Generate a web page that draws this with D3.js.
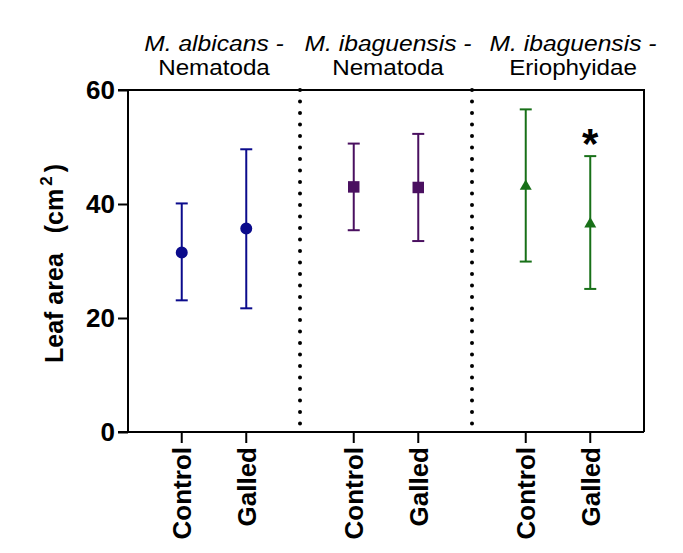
<!DOCTYPE html>
<html>
<head>
<meta charset="utf-8">
<script src="https://cdn.jsdelivr.net/npm/d3@7"></script>
<style>
  html, body { margin: 0; padding: 0; background: #ffffff; }
  svg { display: block; font-family: "Liberation Sans", Arial, sans-serif; }
</style>
</head>
<body>
<svg id="chart" width="683" height="553"></svg>
<script>
// ---- data ----
const titleLine1 = ["M. albicans -", "M. ibaguensis -", "M. ibaguensis -"];
const titleLine2 = ["Nematoda", "Nematoda", "Eriophyidae"];
const treatments = ["Control", "Galled"];
const meanValues  = [31.5, 35.7, 43.0, 42.9, 43.1, 36.5];
const upperValues = [40.1, 49.6, 50.6, 52.3, 56.6, 48.4];
const lowerValues = [23.1, 21.7, 35.4, 33.5, 29.9, 25.1];
const significance = ["", "", "", "", "", "*"];
const yTicks = [0, 20, 40, 60];
const yLabel = "Leaf area";
const yUnit = "(cm";
const yUnitSup = "2";

// ---- styles / layout ----
const groupColors = ["#0b0b8c", "#4a1060", "#187018"];
const groupSymbols = [d3.symbolCircle, d3.symbolSquare, d3.symbolTriangle];
const symbolSizes = [113, 132, 62];
const titleShift = [0, 2, 15];

const svg = d3.select("#chart");
const mLeft = 128, mRight = 644, mTop = 90, mBottom = 432;

const groupIdx = titleLine1.map((d, i) => i);
const xGroup = d3.scaleBand().domain(groupIdx).range([mLeft, mRight]).padding(0);
const xInner = d3.scalePoint().domain(treatments).range([0, xGroup.bandwidth()]).padding(0.833);
const y = d3.scaleLinear().domain([0, 60]).range([mBottom, mTop]);

const points = meanValues.map((m, i) => ({
  g: Math.floor(i / 2),
  t: treatments[i % 2],
  mean: m,
  hi: upperValues[i],
  lo: lowerValues[i],
  sig: significance[i]
}));
const xOf = d => xGroup(d.g) + xInner(d.t);

// frame (top and right)
svg.append("path")
  .attr("d", `M${mLeft},${mTop}H${mRight}V${mBottom}`)
  .attr("fill", "none").attr("stroke", "#000").attr("stroke-width", 2);

// dotted separators
groupIdx.slice(1).forEach(g => {
  svg.append("line")
    .attr("x1", xGroup(g)).attr("x2", xGroup(g))
    .attr("y1", mTop).attr("y2", mBottom)
    .attr("stroke", "#000").attr("stroke-width", 4)
    .attr("stroke-linecap", "round")
    .attr("stroke-dasharray", "0 11.5");
});

// y axis
const yAxis = svg.append("g").attr("transform", `translate(${mLeft},0)`)
  .call(d3.axisLeft(y).tickValues(yTicks).tickSize(10).tickPadding(3).tickFormat(d3.format("d")));
yAxis.select(".domain").attr("stroke-width", 2).attr("d", `M-10,${mBottom}H0V${mTop}H-10`);
yAxis.selectAll(".tick line").attr("stroke-width", 2);
yAxis.selectAll(".tick text")
  .attr("font-size", 26).attr("font-weight", "bold")
  .attr("font-family", "'Liberation Sans', Arial, sans-serif").attr("fill", "#000");

// x axis
const xAxisG = svg.append("g").attr("transform", `translate(0,${mBottom})`);
xAxisG.append("line").attr("x1", mLeft - 10).attr("x2", mRight)
  .attr("y1", 0).attr("y2", 0).attr("stroke", "#000").attr("stroke-width", 2);
const xt = xAxisG.selectAll(".xt").data(points).join("g")
  .attr("transform", d => `translate(${xOf(d)},0)`);
xt.append("line").attr("y1", 0).attr("y2", 11).attr("stroke", "#000").attr("stroke-width", 2);
xt.append("text")
  .attr("transform", "translate(0,15) rotate(-90)")
  .attr("text-anchor", "end").attr("dy", "0.36em")
  .attr("font-size", 26).attr("font-weight", "bold").attr("fill", "#000")
  .text(d => d.t);

// group titles
const titles = svg.selectAll(".title").data(groupIdx).join("g")
  .attr("transform", g => `translate(${xGroup(g) + xGroup.bandwidth() / 2 + titleShift[g]},0)`);
titles.append("text")
  .attr("transform", "translate(0,50.5) scale(1.12,1)")
  .attr("text-anchor", "middle").attr("font-size", 22).attr("font-style", "italic")
  .attr("fill", "#000").text(g => titleLine1[g]);
titles.append("text")
  .attr("transform", "translate(0,74.5) scale(1.1,1)")
  .attr("text-anchor", "middle").attr("font-size", 22)
  .attr("fill", "#000").text(g => titleLine2[g]);

// y title
const yt = svg.append("text")
  .attr("transform", "translate(63,363) rotate(-90)")
  .attr("text-anchor", "start").attr("font-size", 25).attr("font-weight", "bold").attr("fill", "#000");
yt.append("tspan").text(yLabel);
yt.append("tspan").attr("dx", 20).text(yUnit);
yt.append("tspan").attr("font-size", 17).attr("dx", 3).attr("dy", -11).text(yUnitSup);
yt.append("tspan").attr("dx", 4).attr("dy", 11).text(")");

// error bars + markers
const pg = svg.selectAll(".pt").data(points).join("g")
  .attr("transform", d => `translate(${xOf(d)},0)`)
  .attr("stroke", d => groupColors[d.g]).attr("fill", d => groupColors[d.g]);
pg.append("line").attr("y1", d => y(d.hi)).attr("y2", d => y(d.lo)).attr("stroke-width", 2);
pg.append("line").attr("x1", -6).attr("x2", 6).attr("y1", d => y(d.hi)).attr("y2", d => y(d.hi)).attr("stroke-width", 2);
pg.append("line").attr("x1", -6).attr("x2", 6).attr("y1", d => y(d.lo)).attr("y2", d => y(d.lo)).attr("stroke-width", 2);
pg.append("path")
  .attr("transform", d => `translate(0,${y(d.mean)})`)
  .attr("stroke", "none")
  .attr("d", d => d3.symbol().type(groupSymbols[d.g]).size(symbolSizes[d.g])());

// significance
pg.filter(d => d.sig).append("text")
  .attr("y", d => y(d.hi) + 2)
  .attr("text-anchor", "middle").attr("stroke", "none").attr("fill", "#000")
  .attr("font-size", 42).attr("font-weight", "bold")
  .text(d => d.sig);
</script>
</body>
</html>
